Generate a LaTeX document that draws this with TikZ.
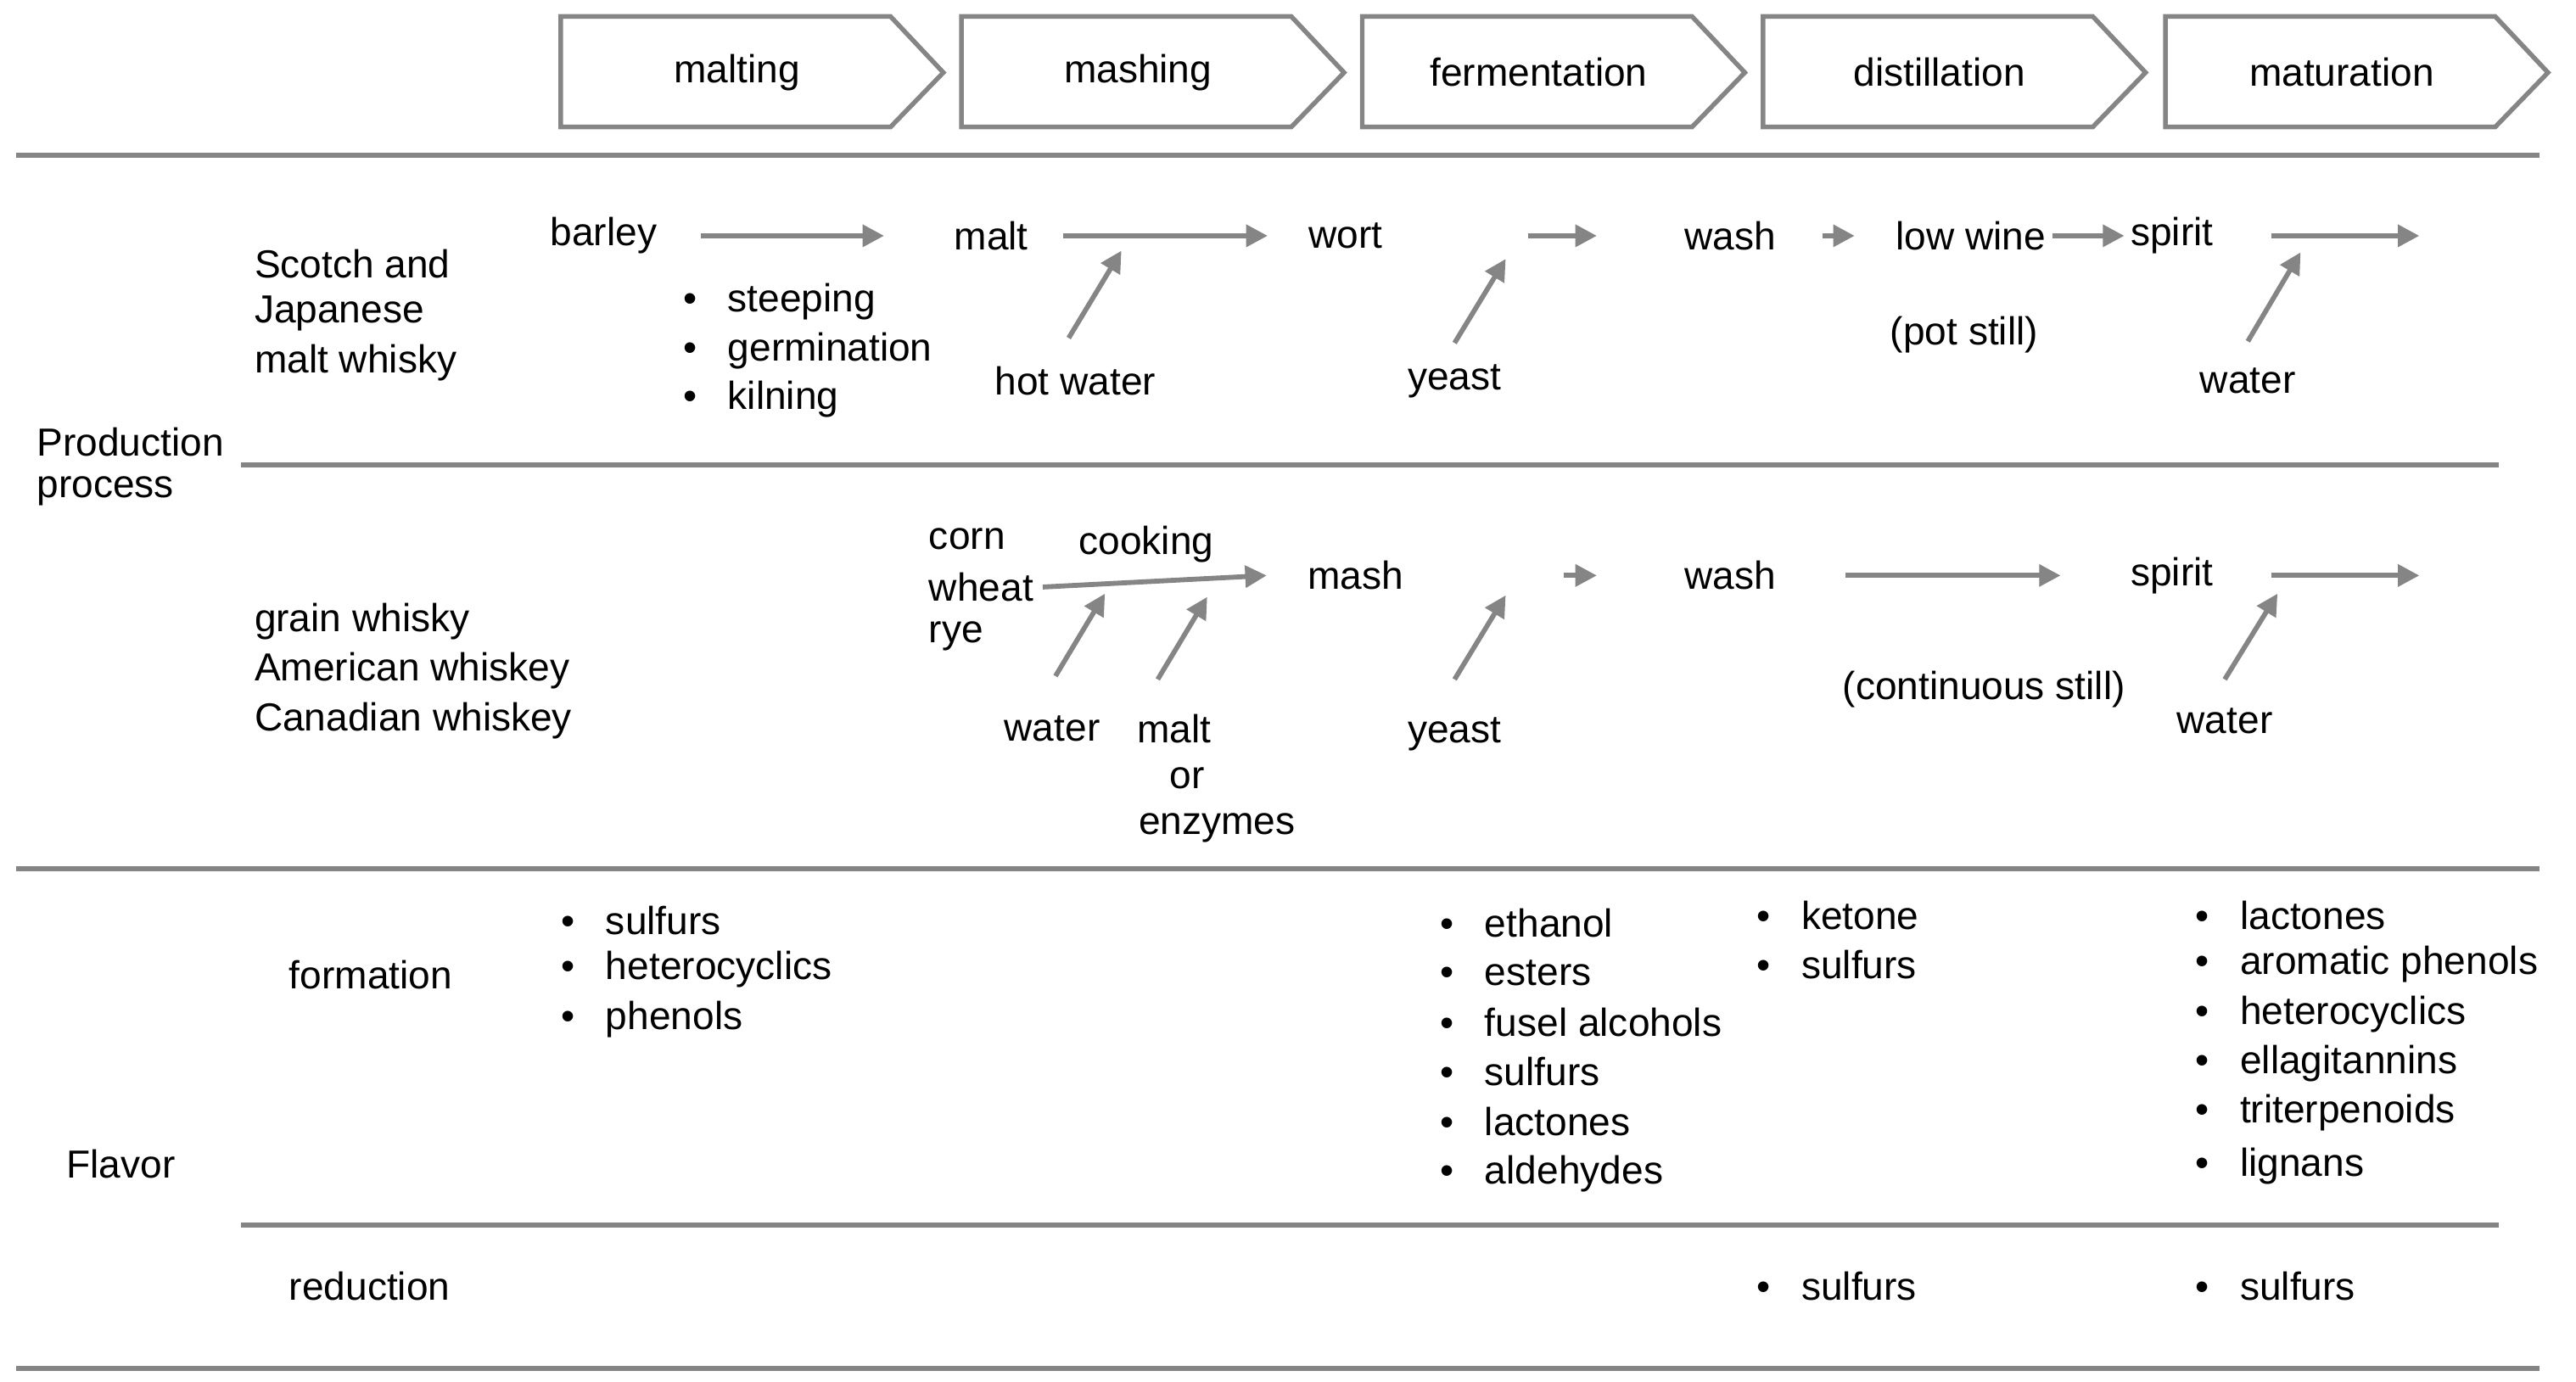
\documentclass[tikz,border=0pt]{standalone}
\usepackage{fontspec}
\setmainfont{Liberation Sans}
\usetikzlibrary{arrows.meta}
\definecolor{g}{HTML}{858585}
\begin{document}
\begin{tikzpicture}[x=0.02cm,y=-0.02cm,
  every node/.style={font=\fontsize{13.5}{16}\selectfont,inner sep=0pt,text=black},
  t/.style={anchor=west},
  ar/.style={draw=g,line width=1.7pt,-{Triangle[length=0.26cm,width=0.26cm]}},
  rule/.style={draw=g,line width=1.7pt},
  chev/.style={draw=g,line width=1.6pt},
  b/.style={anchor=west}]
\useasboundingbox (0,0) rectangle (1562,838);
\newcommand{\bl}[1]{\makebox[0.54cm][l]{\textbullet}#1}
% chevrons
\foreach \l/\t/\n in {340/malting/c1,583/mashing/c2,826/fermentation/c3,1069/distillation/c4,1313/maturation/c5}{
  \draw[chev] (\l,10) -- (\l+200,10) -- (\l+232,44) -- (\l+200,77) -- (\l,77) -- cycle;
  \node (\n) at (\l+107,44) {\t};
}
% rules
\draw[rule] (10,94) -- (1540,94);
\draw[rule] (146,282) -- (1515,282);
\draw[rule] (10,527) -- (1540,527);
\draw[rule] (146,743) -- (1515,743);
\draw[rule] (10,830) -- (1540,830);
% left labels
\node[t] (s1) at (154,160) {Scotch and};
\node[t] (s2) at (154,190) {Japanese};
\node[t] (s3) at (154,220) {malt whisky};
\node[t] (p1) at (22,268) {Production};
\node[t] (p2) at (22,298) {process};
\node[t] (g1) at (154,377) {grain whisky};
\node[t] (g2) at (154,407) {American whiskey};
\node[t] (g3) at (154,437) {Canadian whiskey};
\node[t] (fl) at (40,706) {Flavor};
\node[t] (fo) at (175,591) {formation};
\node[t] (re) at (175,780) {reduction};
% row 1
\node (barley) at (366,143) {barley};
\node (malt) at (601,143) {malt};
\node (wort) at (816,143) {wort};
\node (wash) at (1049,143) {wash};
\node (low) at (1195,143) {low wine};
\node (spirit) at (1317,143) {spirit};
\coordinate (e1) at (1467,143);
\node (hw) at (652,231) {hot water};
\node (y1) at (882,231) {yeast};
\node (w1) at (1363,231) {water};
\node (pot) at (1191,203) {(pot still)};
\node[b] (st) at (414,183) {\bl{steeping}};
\node[b] (ge) at (414,213) {\bl{germination}};
\node[b] (ki) at (414,242) {\bl{kilning}};
\draw[ar] ([xshift=15]barley.east) -- ([xshift=-24]malt.west);
\draw[ar] ([xshift=12]malt.east) -- ([xshift=-14]wort.west);
\draw[ar] ([xshift=50]wort.east) -- ([xshift=-30]wash.west);
\draw[ar] ([xshift=16]wash.east) -- ([xshift=-14]low.west);
\draw[ar] ([xshift=2]low.east) -- ([xshift=-2]spirit.west);
\draw[ar] ([xshift=20]spirit.east) -- (e1);
\draw[ar] (648,205) -- (680,152);
\draw[ar] (882,208) -- (913,157);
\draw[ar] (1363,207) -- (1395,153);
% row 2
\node[t] (corn) at (563,327) {corn};
\node[t] (wheat) at (563,356) {wheat};
\node[t] (rye) at (563,386) {rye};
\node (cook) at (695,330) {cooking};
\node (mash) at (822,349) {mash};
\node (wash2) at (1049,349) {wash};
\node (spirit2) at (1317,349) {spirit};
\coordinate (e2) at (1467,349);
\node (w2) at (638,442) {water};
\node (m2) at (712,442) {malt};
\node (or) at (720,472) {or};
\node (enz) at (738,502) {enzymes};
\node (y2) at (882,445) {yeast};
\node (w3) at (1349,437) {water};
\node (cs) at (1203,418) {(continuous still)};
\draw[ar] ([xshift=3]wheat.east) -- ([xshift=-14]mash.west);
\draw[ar] ([xshift=55]mash.east) -- ([xshift=-30]wash2.west);
\draw[ar] ([xshift=24]wash2.east) -- ([xshift=-24]spirit2.west);
\draw[ar] ([xshift=20]spirit2.east) -- (e2);
\draw[ar] (640,410) -- (670,360);
\draw[ar] (702,412) -- (732,362);
\draw[ar] (882,412) -- (913,361);
\draw[ar] (1349,412) -- (1381,360);
% flavor
\node[b] (a1) at (340,558) {\bl{sulfurs}};
\node[b] (a2) at (340,588) {\bl{heterocyclics}};
\node[b] (a3) at (340,618) {\bl{phenols}};
\node[b] (f1) at (873,560) {\bl{ethanol}};
\node[b] (f2) at (873,590) {\bl{esters}};
\node[b] (f3) at (873,620) {\bl{fusel alcohols}};
\node[b] (f4) at (873,650) {\bl{sulfurs}};
\node[b] (f5) at (873,680) {\bl{lactones}};
\node[b] (f6) at (873,712) {\bl{aldehydes}};
\node[b] (d1) at (1065,555) {\bl{ketone}};
\node[b] (d2) at (1065,585) {\bl{sulfurs}};
\node[b] (d3) at (1065,780) {\bl{sulfurs}};
\node[b] (m1) at (1331,555) {\bl{lactones}};
\node[b] (mm2) at (1331,585) {\bl{aromatic phenols}};
\node[b] (m3) at (1331,615) {\bl{heterocyclics}};
\node[b] (m4) at (1331,645) {\bl{ellagitannins}};
\node[b] (m5) at (1331,675) {\bl{triterpenoids}};
\node[b] (m6) at (1331,707) {\bl{lignans}};
\node[b] (m7) at (1331,780) {\bl{sulfurs}};
\end{tikzpicture}
\end{document}
